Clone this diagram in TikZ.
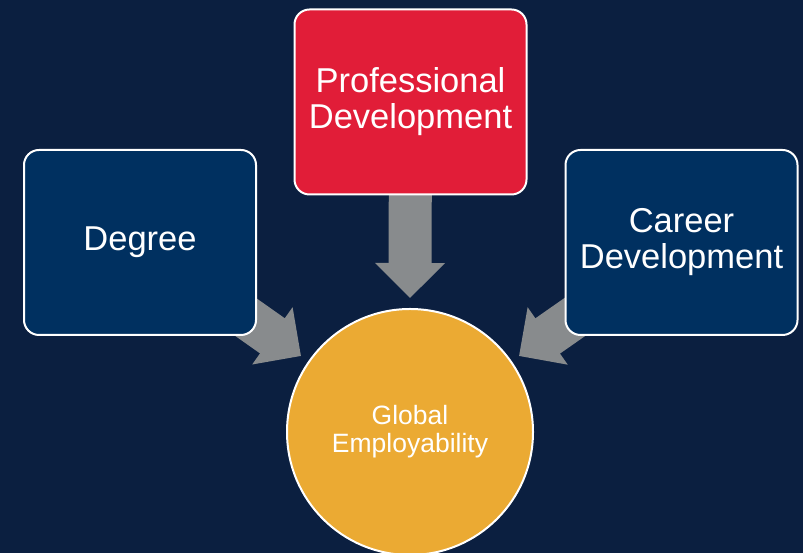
\documentclass[tikz,border=0pt]{standalone}
\usepackage{fontspec}
\setmainfont{Liberation Sans}
\usetikzlibrary{arrows.meta,backgrounds}
\definecolor{slidebg}{RGB}{11,31,64}
\definecolor{boxblue}{RGB}{0,48,96}
\definecolor{boxred}{RGB}{225,29,56}
\definecolor{goalgold}{RGB}{235,170,51}
\definecolor{arrowgray}{RGB}{136,139,141}
\tikzstyle{pillar} = [rectangle, rounded corners=15pt, draw=white, line width=2pt, text=white, align=center, inner sep=0pt, minimum width=232pt, minimum height=185pt, font=\fontsize{34.5}{36}\selectfont]
\tikzstyle{goal} = [circle, draw=white, line width=2pt, fill=goalgold, text=white, align=center, inner sep=0pt, minimum size=246pt, font=\fontsize{26.5}{28}\selectfont]
\tikzstyle{feed} = [draw=arrowgray, line width=43pt, -{Triangle[length=35pt,width=68pt]}]
\begin{document}
\begin{tikzpicture}[x=1pt,y=1pt]
            \useasboundingbox (0,0) rectangle (803,553);
            \node[pillar, fill=boxblue] (deg) at (140,310.5) {Degree};
            \node[pillar, fill=boxred] (prof) at (410.5,451) {Professional\\Development};
            \node[pillar, fill=boxblue] (car) at (681.5,310.5) {Career\\Development};
            \node[goal] (glob) at (410,121) {Global\\Employability};

            \coordinate (degtip) at (301,197);
            \coordinate (proftip) at (410,255);
            \coordinate (cartip) at (519,197);

            \begin{scope}[on background layer]
                \fill[slidebg] (0,0) rectangle (803,553);
                \draw[feed] (deg.center) -- (degtip);
                \draw[feed] (prof.center) -- (proftip);
                \draw[feed] (car.center) -- (cartip);
            \end{scope}
        \end{tikzpicture}
\end{document}
